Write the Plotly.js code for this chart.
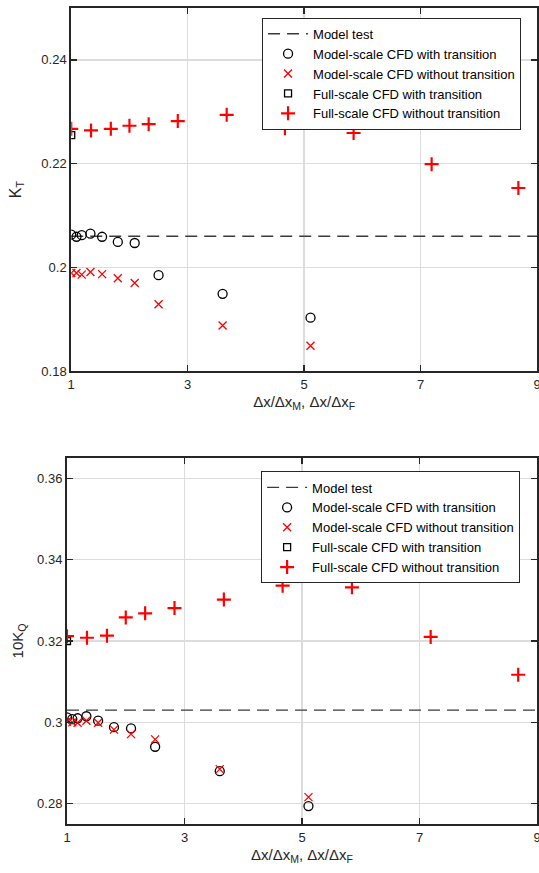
<!DOCTYPE html>
<html>
<head>
<meta charset="utf-8">
<script src="https://cdn.plot.ly/plotly-3.0.1.min.js"></script>
<style>html,body{margin:0;padding:0;background:#fff;}#chart{width:539px;height:873px;}</style>
</head>
<body>
<div id="chart"></div>
<script>
// Refinement ratios
const xModel = [1.0, 1.09, 1.18, 1.33, 1.53, 1.80, 2.09, 2.50, 3.60, 5.11];
const xFull = [1.0, 1.34, 1.68, 2.0, 2.33, 2.83, 3.67, 4.67, 5.85, 7.19, 8.68];
const xFullTrans = [1.0];
const xTestLine = [1, 9];

// K_T
const ktModelTest = 0.2060;
const ktModelTrans = [0.2063, 0.2059, 0.2062, 0.2065, 0.2059, 0.2049, 0.2047, 0.1985, 0.1949, 0.1903];
const ktModelNoTrans = [0.1989, 0.1989, 0.1986, 0.1991, 0.1987, 0.1979, 0.1970, 0.1929, 0.1888, 0.1849];
const ktFullTrans = [0.2255];
const ktFullNoTrans = [0.2267, 0.2264, 0.2267, 0.2273, 0.2276, 0.2282, 0.2294, 0.2268, 0.2259, 0.2199, 0.2153];

// 10K_Q
const kqModelTest = 0.3030;
const kqModelTrans = [0.3012, 0.3008, 0.3010, 0.3015, 0.3004, 0.2988, 0.2985, 0.2940, 0.2880, 0.2794];
const kqModelNoTrans = [0.3002, 0.3000, 0.2999, 0.3004, 0.2999, 0.2982, 0.2971, 0.2958, 0.2885, 0.2816];
const kqFullTrans = [0.3200];
const kqFullNoTrans = [0.3212, 0.3208, 0.3213, 0.3258, 0.3268, 0.3281, 0.3302, 0.3336, 0.3332, 0.3210, 0.3117];

const xTicks = [1, 3, 5, 7, 9];
const ktTicks = [0.18, 0.2, 0.22, 0.24];
const ktTickText = ['0.18', '0.2', '0.22', '0.24'];
const kqTicks = [0.28, 0.3, 0.32, 0.34, 0.36];
const kqTickText = ['0.28', '0.3', '0.32', '0.34', '0.36'];

const names = ['Model test', 'Model-scale CFD with transition', 'Model-scale CFD without transition',
  'Full-scale CFD with transition', 'Full-scale CFD without transition'];

function makeTraces(xa, ya, leg, mt, mTr, mNo, fTr, fNo) {
  return [
    {x: xTestLine, y: [mt, mt], mode: 'lines', name: names[0], xaxis: xa, yaxis: ya, legend: leg,
     line: {color: '#3a3a3a', width: 1.3, dash: '12px,7px'}},
    {x: xModel, y: mTr, mode: 'markers', name: names[1], xaxis: xa, yaxis: ya, legend: leg,
     marker: {symbol: 'circle-open', size: 9, color: '#000', line: {width: 1.3, color: '#000'}}},
    {x: xModel, y: mNo, mode: 'markers', name: names[2], xaxis: xa, yaxis: ya, legend: leg,
     marker: {symbol: 'x-thin-open', size: 8, color: '#ff0000', line: {width: 1.3, color: '#ff0000'}}},
    {x: xFullTrans, y: fTr, mode: 'markers', name: names[3], xaxis: xa, yaxis: ya, legend: leg,
     marker: {symbol: 'square-open', size: 7, color: '#000', line: {width: 1.3, color: '#000'}}},
    {x: xFull, y: fNo, mode: 'markers', name: names[4], xaxis: xa, yaxis: ya, legend: leg,
     marker: {symbol: 'cross-thin-open', size: 10, color: '#ff0000', line: {width: 2.2, color: '#ff0000'}}}
  ];
}

const data = [].concat(
  makeTraces('x', 'y', 'legend', ktModelTest, ktModelTrans, ktModelNoTrans, ktFullTrans, ktFullNoTrans),
  makeTraces('x2', 'y2', 'legend2', kqModelTest, kqModelTrans, kqModelNoTrans, kqFullTrans, kqFullNoTrans)
);

const axCommon = {
  showline: true, linecolor: '#262626', linewidth: 2, mirror: 'ticks',
  ticks: 'inside', ticklen: 6, tickwidth: 1.5, tickcolor: '#262626',
  showgrid: true, gridcolor: '#dcdcdc', gridwidth: 1.5, zeroline: false,
  ticklabeloverflow: 'allow',
  tickfont: {family: 'Liberation Sans, Arial, sans-serif', size: 13, color: '#262626'}
};
const xTitle = {text: 'Δx/Δx<sub>M</sub>, Δx/Δx<sub>F</sub>', font: {family: 'Liberation Sans, Arial, sans-serif', size: 15, color: '#262626'}, standoff: 6};

const legCommon = {
  bgcolor: '#fff', bordercolor: '#262626', borderwidth: 1,
  font: {family: 'Liberation Sans, Arial, sans-serif', size: 13, color: '#000'},
  xanchor: 'left', yanchor: 'top', itemwidth: 40, tracegroupgap: 0
};

const layout = {
  width: 539, height: 873,
  margin: {l: 67, r: 2, t: 8, b: 49},
  paper_bgcolor: '#fff', plot_bgcolor: '#fff',
  showlegend: true,
  xaxis: Object.assign({}, axCommon, {domain: [0.009, 1], range: [1, 9], tickvals: xTicks, anchor: 'y', title: xTitle}),
  yaxis: Object.assign({}, axCommon, {domain: [0.555, 1], range: [0.18, 0.25], tickvals: ktTicks, ticktext: ktTickText, anchor: 'x',
    title: {text: 'K<sub>T</sub>', font: {family: 'Liberation Sans, Arial, sans-serif', size: 16, color: '#262626'}, standoff: 16}}),
  xaxis2: Object.assign({}, axCommon, {domain: [0, 1], range: [1, 9], tickvals: xTicks, anchor: 'y2', title: xTitle}),
  yaxis2: Object.assign({}, axCommon, {domain: [0, 0.4485], range: [0.275, 0.365], tickvals: kqTicks, ticktext: kqTickText, anchor: 'x2',
    title: {text: '10K<sub>Q</sub>', font: {family: 'Liberation Sans, Arial, sans-serif', size: 15, color: '#262626'}, standoff: 10}}),
  legend: Object.assign({}, legCommon, {x: 0.415, y: 0.988}),
  legend2: Object.assign({}, legCommon, {x: 0.413, y: 0.432})
};

Plotly.newPlot('chart', data, layout, {displayModeBar: false, staticPlot: true});
</script>
</body>
</html>
